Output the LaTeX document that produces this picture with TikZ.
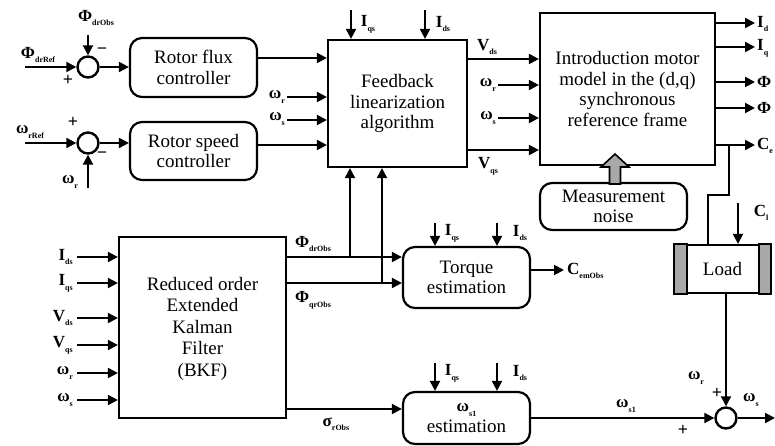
\documentclass[tikz,border=0pt]{standalone}
\usepackage{fontspec}
\setmainfont{Liberation Serif}
\usetikzlibrary{arrows.meta,calc}
\definecolor{lgray}{RGB}{168,168,168}
\newcommand{\lb}[2]{#1\raisebox{-0.6ex}{\fontsize{8}{8}\selectfont\bfseries #2}}
\newcommand{\bigf}{\fontsize{19}{20.5}\selectfont}
\newcommand{\labf}{\fontsize{17}{17}\selectfont\bfseries}
\begin{document}
\begin{tikzpicture}[x=1pt,y=-1pt,
  blk/.style={draw, line width=2.2pt, align=center, font=\bigf, inner sep=0pt, fill=white},
  rblk/.style={blk, rounded corners=12pt},
  sumc/.style={circle, draw, line width=2.4pt, minimum size=21pt, inner sep=0pt},
  ar/.style={line width=2pt, -{Triangle[length=10pt,width=10pt]}},
  ln/.style={line width=2pt},
  lab/.style={font=\labf, inner sep=0pt},
  sgn/.style={font=\fontsize{18}{18}\selectfont\bfseries, inner sep=0pt}]
\useasboundingbox (0,0) rectangle (775,446);

% blocks
\node[sumc] (s1) at (88,67) {};
\node[sumc] (s2) at (88,143) {};
\node[sumc] (s3) at (726,418) {};
\node[rblk, minimum width=127pt, minimum height=59pt] (flux) at (193.5,67.5) {Rotor flux\\controller};
\node[rblk, minimum width=127pt, minimum height=58pt] (speed) at (193.5,151) {Rotor speed\\controller};
\node[blk, minimum width=139pt, minimum height=127pt] (FL) at (397.5,103.5) {Feedback\\linearization\\algorithm};
\node[blk, minimum width=175pt, minimum height=152pt] (motor) at (627.5,89) {Introduction motor\\model in the (d,q)\\synchronous\\reference frame};
\node[rblk, minimum width=147pt, minimum height=47pt] (noise) at (613.5,206.5) {Measurement\\noise};
\node[blk, minimum width=167pt, minimum height=181pt, font=\fontsize{19}{21.5}\selectfont] (KF) at (202.5,327.5) {\\[-6pt]Reduced order\\Extended\\Kalman\\Filter\\(BKF)};
\node[rblk, minimum width=127pt, minimum height=61pt] (torque) at (466.5,277.5) {Torque\\estimation};
\node[rblk, minimum width=127pt, minimum height=52pt] (wse) at (466.5,418) {{\labf\lb{ω}{s1}}\\estimation};
\node[blk, minimum width=95pt, minimum height=48pt] (load) at (722.5,269) {Load};
\draw[line width=2.2pt, fill=lgray] (load.south west) rectangle ($(load.north west)+(13,0)$);
\draw[line width=2.2pt, fill=lgray] (load.south east) rectangle ($(load.north east)+(-12,0)$);

% summing junction 1
\coordinate (pdr) at (25,67);
\draw[ar] (pdr) -- (s1.west);
\node[lab] (lpdr) at (38,55) {\lb{Φ}{drRef}};
\coordinate (pdo) at (88,35);
\draw[ar] (pdo) -- (s1.north);
\node[lab] (lpdo) at (96,18) {\lb{Φ}{drObs}};
\node[sgn] (m1) at (102,51) {−};
\node[sgn] (p1) at (68,80) {+};
\draw[ar] (s1.east) -- (flux.west |- s1);

% summing junction 2
\coordinate (wrr) at (25,143);
\draw[ar] (wrr) -- (s2.west);
\node[lab] (lwrr) at (30,132) {\lb{ω}{rRef}};
\coordinate (wrb) at (88,188);
\draw[ar] (wrb) -- (s2.south);
\node[lab] (lwrb) at (70,182) {\lb{ω}{r}};
\node[sgn] (p2) at (73,122) {+};
\node[sgn] (m2) at (102,155) {−};
\draw[ar] (s2.east) -- (speed.west |- s2);

% inputs of feedback linearization
\draw[ar] (flux.east |- 0,58) -- (FL.west |- 0,58);
\coordinate (fwr) at (287,97);
\draw[ar] (fwr) -- (FL.west |- fwr);
\node[lab, anchor=east] (lfwr) at (285,97) {\lb{ω}{r}};
\coordinate (fws) at (287,120);
\draw[ar] (fws) -- (FL.west |- fws);
\node[lab, anchor=east] (lfws) at (285,119) {\lb{ω}{s}};
\draw[ar] (speed.east |- 0,145) -- (FL.west |- 0,145);
\coordinate (fiq) at (351,10);
\draw[ar] (fiq) -- (FL.north -| fiq);
\node[lab] (lfiq) at (368,24) {\lb{I}{qs}};
\coordinate (fid) at (425,10);
\draw[ar] (fid) -- (FL.north -| fid);
\node[lab] (lfid) at (443,24) {\lb{I}{ds}};

% feedback linearization to motor
\draw[ar] (FL.east |- 0,59) -- (motor.west |- 0,59);
\node[lab] (lvds) at (487,47) {\lb{V}{ds}};
\coordinate (mwr) at (498,85);
\draw[ar] (mwr) -- (motor.west |- mwr);
\node[lab, anchor=east] (lmwr) at (496,85) {\lb{ω}{r}};
\coordinate (mws) at (498,118);
\draw[ar] (mws) -- (motor.west |- mws);
\node[lab, anchor=east] (lmws) at (496,118) {\lb{ω}{s}};
\draw[ar] (FL.east |- 0,150) -- (motor.west |- 0,150);
\node[lab] (lvqs) at (488,166) {\lb{V}{qs}};

% motor outputs
\coordinate (o1) at (755,23);
\coordinate (o2) at (755,47);
\coordinate (o3) at (755,82);
\coordinate (o4) at (755,108);
\coordinate (o5) at (755,145);
\draw[ar] (motor.east |- o1) -- (o1);
\draw[ar] (motor.east |- o2) -- (o2);
\draw[ar] (motor.east |- o3) -- (o3);
\draw[ar] (motor.east |- o4) -- (o4);
\draw[ar] (motor.east |- o5) -- (o5);
\node[lab, anchor=west] (lo1) at (757,24) {\lb{I}{d}};
\node[lab, anchor=west] (lo2) at (757,48) {\lb{I}{q}};
\node[lab, anchor=west] (lo3) at (757,82) {Φ};
\node[lab, anchor=west] (lo4) at (757,108) {Φ};
\node[lab, anchor=west] (lo5) at (757,146) {\lb{C}{e}};

% measurement noise arrow
\draw[line width=1.6pt, fill=lgray] (615,154) -- (629,167) -- (620.5,167) -- (620.5,184) -- (609.5,184) -- (609.5,167) -- (601,167) -- cycle;

% electromagnetic torque to load
\coordinate (ce1) at (729,145);
\coordinate (ce2) at (729,195);
\coordinate (ce3) at (708,195);
\draw[ln] (ce1) -- (ce2) -- (ce3) -- (load.north -| ce3);
\coordinate (cl) at (738,203);
\draw[ar] (cl) -- (load.north -| cl);
\node[lab] (lcl) at (761,213) {\lb{C}{l}};

% load to summing junction 3
\draw[ar] (s3 |- load.south) -- (s3.north);
\node[lab] (lwr3) at (696,378) {\lb{ω}{r}};
\node[sgn] (p3) at (717,393) {+};
\coordinate (wout) at (775,418);
\draw[ar] (s3.east) -- (wout);
\node[lab] (lws3) at (751,400) {\lb{ω}{s}};
\draw[ar] (wse.east) -- (s3.west);
\node[lab] (lws1) at (626,406) {\lb{ω}{s1}};
\node[sgn] (p4) at (683,430) {+};

% Kalman filter inputs
\foreach \yy/\tt [count=\i] in {257/{\lb{I}{ds}},283/{\lb{I}{qs}},318/{\lb{V}{ds}},345/{\lb{V}{qs}},373/{\lb{ω}{r}},400/{\lb{ω}{s}}}{
  \coordinate (ki\i) at (77,\yy);
  \draw[ar] (ki\i) -- (KF.west |- ki\i);
  \node[lab, anchor=east] (lki\i) at (73,\yy) {\tt};
}

% Kalman filter outputs
\draw[ar] (KF.east |- 0,257) -- (torque.west |- 0,257);
\draw[ar] (KF.east |- 0,283) -- (torque.west |- 0,283);
\node[lab] (lpdo2) at (313,244) {\lb{Φ}{drObs}};
\node[lab] (lpqo) at (313,300) {\lb{Φ}{qrObs}};
\coordinate (fb1) at (350,257);
\coordinate (fb2) at (382,283);
\draw[ar] (fb1) -- (FL.south -| fb1);
\draw[ar] (fb2) -- (FL.south -| fb2);
\draw[ar] (KF.east |- 0,409) -- (wse.west |- 0,409);
\node[lab] (lsig) at (336,424) {\lb{σ}{rObs}};

% torque estimation
\coordinate (tiq) at (435,223);
\coordinate (tid) at (497,223);
\draw[ar] (tiq) -- (torque.north -| tiq);
\draw[ar] (tid) -- (torque.north -| tid);
\node[lab] (ltiq) at (452,233) {\lb{I}{qs}};
\node[lab] (ltid) at (520,233) {\lb{I}{ds}};
\coordinate (cem) at (564,270);
\draw[ar] (torque.east |- cem) -- (cem);
\node[lab, anchor=west] (lcem) at (567,271) {\lb{C}{emObs}};

% slip estimation
\coordinate (wiq) at (435,363);
\coordinate (wid) at (497,363);
\draw[ar] (wiq) -- (wse.north -| wiq);
\draw[ar] (wid) -- (wse.north -| wid);
\node[lab] (lwiq) at (452,373) {\lb{I}{qs}};
\node[lab] (lwid) at (520,373) {\lb{I}{ds}};
\end{tikzpicture}
\end{document}
